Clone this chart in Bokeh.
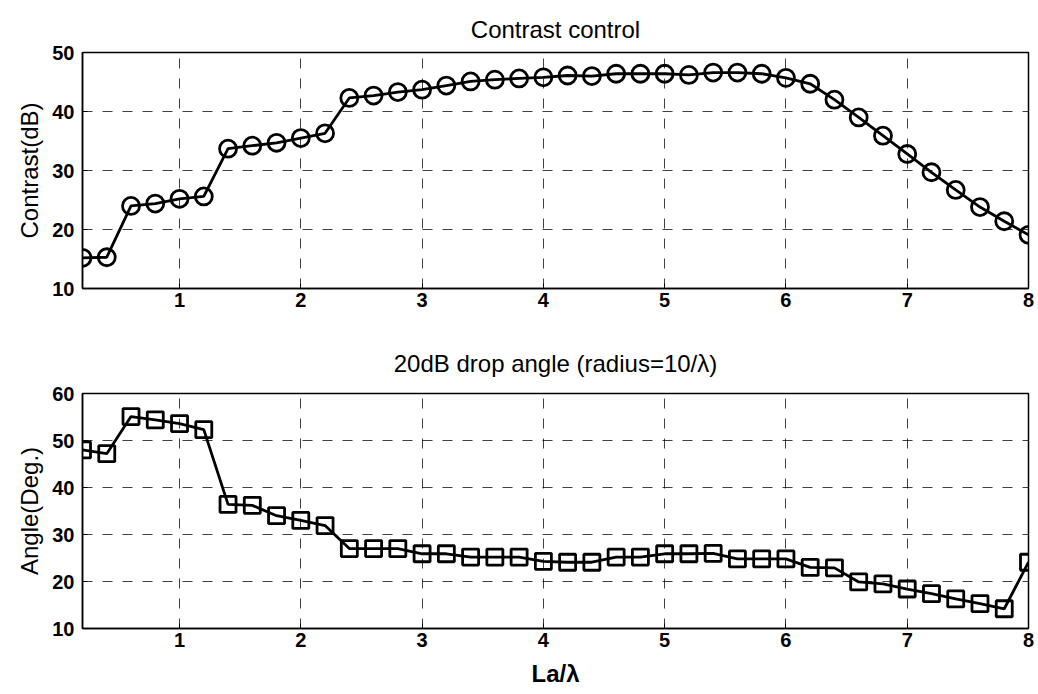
from bokeh.plotting import figure
from bokeh.layouts import column
from bokeh.models import FixedTicker, Range1d
from bokeh.embed import file_html
from bokeh.resources import INLINE

x = [0.2, 0.4, 0.6, 0.8, 1.0, 1.2, 1.4, 1.6, 1.8, 2.0,
     2.2, 2.4, 2.6, 2.8, 3.0, 3.2, 3.4, 3.6, 3.8, 4.0,
     4.2, 4.4, 4.6, 4.8, 5.0, 5.2, 5.4, 5.6, 5.8, 6.0,
     6.2, 6.4, 6.6, 6.8, 7.0, 7.2, 7.4, 7.6, 7.8, 8.0]
contrast = [15.2, 15.3, 24.0, 24.4, 25.2, 25.6, 33.7, 34.2, 34.7, 35.5,
            36.3, 42.3, 42.7, 43.3, 43.7, 44.4, 45.1, 45.4, 45.6, 45.8,
            46.1, 46.0, 46.4, 46.4, 46.4, 46.2, 46.6, 46.6, 46.4, 45.7,
            44.7, 42.0, 39.0, 35.9, 32.8, 29.7, 26.7, 23.8, 21.4, 19.1]
angle = [48.0, 47.2, 55.1, 54.4, 53.6, 52.3, 36.4, 36.2, 34.0, 33.0,
         31.9, 27.0, 27.0, 27.0, 25.9, 25.9, 25.2, 25.2, 25.2, 24.3,
         24.1, 24.1, 25.2, 25.2, 25.9, 25.9, 26.0, 24.8, 24.8, 24.8,
         23.0, 22.9, 19.9, 19.5, 18.4, 17.4, 16.3, 15.3, 14.2, 24.1]
x_ticks = [1, 2, 3, 4, 5, 6, 7, 8]
top_y_ticks = [10, 20, 30, 40, 50]
bot_y_ticks = [10, 20, 30, 40, 50, 60]

FONT = "Liberation Sans"


def style(p, yticks, ylabel, title, title_standoff):
    p.title.text = title
    p.title.align = "center"
    p.title.text_font = FONT
    p.title.text_font_size = "24px"
    p.title.text_font_style = "normal"
    p.title.text_color = "black"
    p.title.standoff = title_standoff
    p.xaxis.ticker = FixedTicker(ticks=x_ticks)
    p.yaxis.ticker = FixedTicker(ticks=yticks)
    p.yaxis.axis_label = ylabel
    for ax in (p.xaxis[0], p.yaxis[0]):
        ax.major_label_text_font = FONT
        ax.major_label_text_font_size = "20px"
        ax.major_label_text_font_style = "bold"
        ax.major_label_text_color = "black"
        ax.axis_label_text_font = FONT
        ax.axis_label_text_font_size = "24px"
        ax.axis_label_text_font_style = "normal"
        ax.axis_label_text_color = "black"
        ax.axis_line_color = "black"
        ax.axis_line_width = 1.5
        ax.major_tick_in = 5
        ax.major_tick_out = 0
        ax.major_tick_line_color = "black"
        ax.minor_tick_line_color = None
    p.yaxis.major_label_standoff = 8
    p.xaxis.major_label_standoff = 4
    p.yaxis.axis_label_standoff = 6
    for g in (p.xgrid[0], p.ygrid[0]):
        g.grid_line_color = "black"
        g.grid_line_dash = "10 10"
        g.grid_line_width = 1
        g.grid_line_alpha = 0.75
    p.outline_line_color = "black"
    p.outline_line_width = 1.5
    p.outline_line_alpha = 1


p1 = figure(width=1038, height=330, output_backend="svg", toolbar_location=None,
            x_range=Range1d(0.2, 8), y_range=Range1d(10, 50),
            min_border_left=82, min_border_right=10, min_border_top=52, min_border_bottom=42)
style(p1, top_y_ticks, "Contrast(dB)", "Contrast control", 20)
p1.line(x, contrast, line_color="black", line_width=2.8)
p1.scatter(x, contrast, marker="circle", size=17, fill_color=None,
           line_color="black", line_width=2.8)

p2 = figure(width=1038, height=364, output_backend="svg", toolbar_location=None,
            x_range=Range1d(0.2, 8), y_range=Range1d(10, 60),
            min_border_left=82, min_border_right=10, min_border_top=63, min_border_bottom=66)
style(p2, bot_y_ticks, "Angle(Deg.)", "20dB drop angle (radius=10/\u03bb)", 33)
p2.xaxis.axis_label = "La/\u03bb"
p2.xaxis.axis_label_text_font_style = "bold"
p2.xaxis.axis_label_standoff = 10
p2.line(x, angle, line_color="black", line_width=2.8)
p2.scatter(x, angle, marker="square", size=16, fill_color=None,
           line_color="black", line_width=2.8)

layout = column(p1, p2, spacing=0)
open("out.html", "w").write(file_html(layout, INLINE))
